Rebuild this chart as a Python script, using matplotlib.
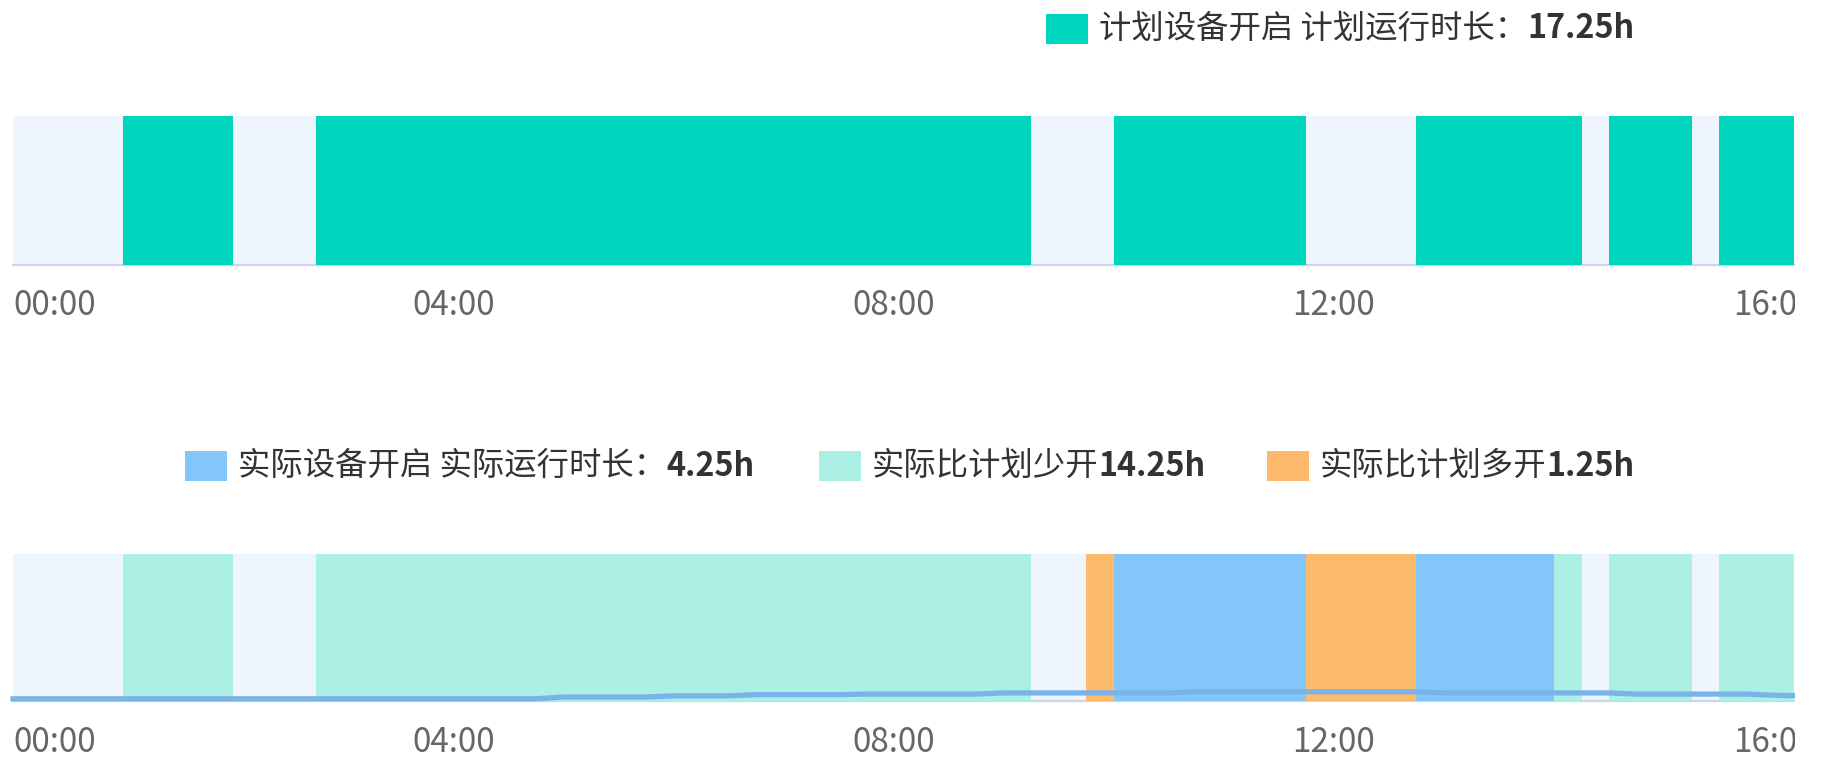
import matplotlib
matplotlib.use('Agg')
import matplotlib.pyplot as plt
from matplotlib.patches import Rectangle

FONT = ['Noto Sans CJK SC', 'DejaVu Sans']
plt.rcParams['font.family'] = FONT

# ---------------- data (hours of day) ----------------
plan_on_start = [1.0, 2.75, 10.0, 12.75, 14.5, 15.5]
plan_on_end = [2.0, 9.25, 11.75, 14.25, 15.25, 16.25]

less_on_start = [1.0, 2.75, 14.0, 14.5, 15.5]
less_on_end = [2.0, 9.25, 14.25, 15.25, 16.25]

more_on_start = [9.75, 11.75]
more_on_end = [10.0, 12.75]

actual_on_start = [10.0, 12.75]
actual_on_end = [11.75, 14.0]

line_hours = [0, 4.75, 5.0, 5.75, 6.0, 6.5, 6.75, 7.5, 7.75, 8.75, 9.0, 10.5, 10.75,
              12.75, 13.0, 14.5, 14.75, 15.75, 16.0, 16.25]
line_values = [1.5, 1.5, 2.7, 2.7, 3.5, 3.5, 4.3, 4.3, 4.7, 4.7, 5.5, 5.5, 6.3,
               6.3, 5.5, 5.5, 4.7, 4.7, 3.9, 3.5]

tick_hours = [0, 4, 8, 12, 16]
tick_labels = ['00:00', '04:00', '08:00', '12:00', '16:00']

plan_label = ('计划设备开启 计划运行时长：', '17.25h')
actual_label = ('实际设备开启 实际运行时长：', '4.25h')
less_label = ('实际比计划少开', '14.25h')
more_label = ('实际比计划多开', '1.25h')

# ---------------- style ----------------
C_PLAN = '#00D6BE'
C_LESS = '#ABEFE5'
C_MORE = '#FDBA6D'
C_ACTUAL = '#82C6FA'
C_LINE = '#7AB3EA'
C_BG = '#EEF5FD'
C_AXIS = '#CCD6EB'
C_TICK = '#666666'
C_TEXT = '#333333'

W, H = 1821, 760
fig = plt.figure(figsize=(W / 100, H / 100), dpi=100)
X_MAX = 16.18
FULL = 100
FS = 23.3
FS_TICK = 24


def ax_at(l, t, r, b):
    return fig.add_axes([l / W, 1 - b / H, (r - l) / W, (b - t) / H])


def style(ax):
    ax.set_xlim(0, X_MAX)
    ax.set_ylim(0, FULL)
    ax.set_facecolor(C_BG)
    for s in ['top', 'right', 'left']:
        ax.spines[s].set_visible(False)
    ax.spines['bottom'].set_color(C_AXIS)
    ax.spines['bottom'].set_linewidth(1.6)
    ax.spines['bottom'].set_zorder(1)
    ax.set_xticks([])
    ax.set_yticks([])
    for h, lab in zip(tick_hours, tick_labels):
        ax.annotate(lab, xy=(h, 0), xycoords=('data', 'axes fraction'),
                    xytext=(0, -41), textcoords='offset pixels',
                    ha='left' if h == tick_hours[0] else 'center', va='center',
                    fontsize=FS_TICK, color=C_TICK, annotation_clip=False)


def bars(ax, starts, ends, color):
    ax.bar(starts, [FULL] * len(starts), width=[e - s for s, e in zip(starts, ends)],
           align='edge', color=color, linewidth=0, zorder=2)


ax1 = ax_at(13, 116, 1794, 265)
style(ax1)
bars(ax1, plan_on_start, plan_on_end, C_PLAN)

ax2 = ax_at(13, 554, 1794, 701)
style(ax2)
bars(ax2, less_on_start, less_on_end, C_LESS)
bars(ax2, more_on_start, more_on_end, C_MORE)
bars(ax2, actual_on_start, actual_on_end, C_ACTUAL)
ax2.plot(line_hours, line_values, color=C_LINE, lw=3.8, zorder=3, clip_on=False,
         solid_joinstyle='round')

renderer = fig.canvas.get_renderer()


def legend_item(x, y, color, normal, bold):
    fig.add_artist(Rectangle((x / W, 1 - (y + 15) / H), 42 / W, 30 / H,
                             transform=fig.transFigure, color=color, lw=0))
    t = fig.text((x + 53) / W, 1 - y / H, normal, fontsize=FS, color=C_TEXT,
                 ha='left', va='center')
    bb = t.get_window_extent(renderer)
    fig.text(bb.x1 / W, 1 - y / H, bold, fontsize=FS, color=C_TEXT,
             fontweight='bold', ha='left', va='center')


legend_item(1046, 29, C_PLAN, *plan_label)
legend_item(185, 466, C_ACTUAL, *actual_label)
legend_item(819, 466, C_LESS, *less_label)
legend_item(1267, 466, C_MORE, *more_label)

# canvas is clipped at the right edge of the plot area
fig.add_artist(Rectangle((1795 / W, 0), (W - 1795) / W, 1, transform=fig.transFigure,
                         color='white', lw=0, zorder=100))

fig.savefig('out.png', dpi=100, facecolor='white')
